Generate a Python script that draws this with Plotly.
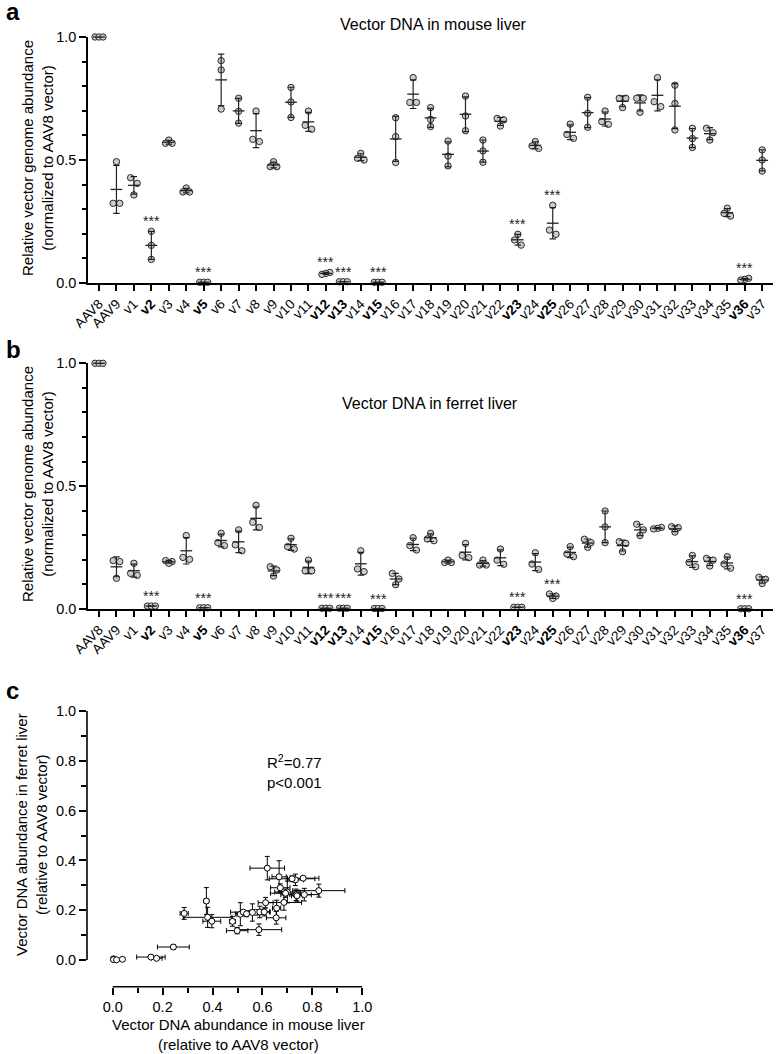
import numpy as np
import plotly.graph_objects as go

# ---------------- data ----------------
names = ["AAV8", "AAV9", "v1", "v2", "v3", "v4", "v5", "v6", "v7", "v8", "v9", "v10",
         "v11", "v12", "v13", "v14", "v15", "v16", "v17", "v18", "v19", "v20", "v21",
         "v22", "v23", "v24", "v25", "v26", "v27", "v28", "v29", "v30", "v31", "v32",
         "v33", "v34", "v35", "v36", "v37"]
significant = ["v2", "v5", "v12", "v13", "v15", "v23", "v25", "v36"]

mouse = [
    [1.000, 1.000, 1.000], [0.493, 0.324, 0.324], [0.428, 0.405, 0.358], [0.210, 0.153, 0.096],
    [0.581, 0.568, 0.568], [0.386, 0.370, 0.370], [0.003, 0.003, 0.003], [0.904, 0.866, 0.707],
    [0.751, 0.698, 0.650], [0.699, 0.584, 0.575], [0.493, 0.473, 0.473], [0.795, 0.736, 0.673],
    [0.699, 0.641, 0.625], [0.043, 0.039, 0.035], [0.005, 0.005, 0.005], [0.527, 0.507, 0.500],
    [0.003, 0.003, 0.003], [0.672, 0.595, 0.490], [0.835, 0.734, 0.734], [0.713, 0.665, 0.636],
    [0.577, 0.516, 0.476], [0.760, 0.679, 0.619], [0.581, 0.537, 0.491], [0.669, 0.663, 0.638],
    [0.198, 0.175, 0.154], [0.575, 0.557, 0.547], [0.316, 0.215, 0.198], [0.646, 0.604, 0.588],
    [0.755, 0.690, 0.633], [0.699, 0.656, 0.645], [0.751, 0.751, 0.713], [0.751, 0.751, 0.694],
    [0.835, 0.737, 0.717], [0.804, 0.730, 0.622], [0.629, 0.587, 0.551], [0.629, 0.611, 0.581],
    [0.304, 0.283, 0.272], [0.019, 0.015, 0.012], [0.541, 0.500, 0.455],
]

ferret = [
    [1.000, 1.000, 1.000], [0.197, 0.193, 0.125], [0.186, 0.145, 0.137], [0.012, 0.012, 0.012],
    [0.197, 0.193, 0.186], [0.299, 0.210, 0.202], [0.005, 0.005, 0.005], [0.308, 0.270, 0.258],
    [0.322, 0.261, 0.237], [0.422, 0.353, 0.332], [0.172, 0.159, 0.134], [0.288, 0.254, 0.244],
    [0.199, 0.155, 0.155], [0.003, 0.003, 0.003], [0.003, 0.003, 0.003], [0.237, 0.163, 0.152],
    [0.002, 0.002, 0.002], [0.145, 0.122, 0.099], [0.290, 0.258, 0.240], [0.308, 0.285, 0.278],
    [0.199, 0.189, 0.189], [0.267, 0.218, 0.209], [0.199, 0.179, 0.179], [0.244, 0.199, 0.182],
    [0.007, 0.007, 0.007], [0.229, 0.183, 0.161], [0.061, 0.053, 0.043], [0.254, 0.224, 0.213],
    [0.284, 0.270, 0.251], [0.399, 0.334, 0.270], [0.274, 0.267, 0.233], [0.345, 0.322, 0.299],
    [0.332, 0.328, 0.326], [0.335, 0.331, 0.313], [0.218, 0.189, 0.172], [0.206, 0.199, 0.175],
    [0.213, 0.183, 0.166], [0.001, 0.001, 0.001], [0.129, 0.121, 0.104],
]

r2_text = "R<sup>2</sup>=0.77<br>p&lt;0.001"

# ---------------- layout helpers ----------------
W, H = 776, 1054
FONT = "Liberation Sans, Arial, sans-serif"
def px(x):
    return x / W
def py(y):
    return 1 - y / H

CAT_PX = 17.45      # pixel width of one category
VAL_PX = 246.0      # pixels per unit on y
DOT = 6.6           # dot spacing in px


def jitter(vals):
    v = np.array(vals, dtype=float)
    order = list(np.argsort(v))
    sv = v * VAL_PX
    clusters, cur = [], [order[0]]
    for k in range(1, len(order)):
        if sv[order[k]] - sv[order[k - 1]] < 6.5:
            cur.append(order[k])
        else:
            clusters.append(cur)
            cur = [order[k]]
    clusters.append(cur)
    off = np.zeros(len(v))
    for c in clusters:
        if len(c) == 2:
            off[c[1]] = -DOT / 2
            off[c[0]] = DOT / 2
        elif len(c) == 3:
            pv = sv[c]
            if pv[2] - pv[0] < 2:
                off[c[0]], off[c[1]], off[c[2]] = -0.6 * DOT, 0, 0.6 * DOT
            else:
                if pv[1] - pv[0] > pv[2] - pv[1]:
                    odd, pair = c[0], [c[2], c[1]]
                else:
                    odd, pair = c[2], [c[1], c[0]]
                off[odd] = 0
                off[pair[0]] = -DOT / 2
                off[pair[1]] = DOT / 2
    return off / CAT_PX


fig = go.Figure()

ticktext = [f"<b>{n}</b>" if n in significant else n for n in names]
idx = np.arange(len(names))


def add_dot_panel(data, xa, ya):
    xs, ys = [], []
    for i, vals in enumerate(data):
        off = jitter(vals)
        for v, o in zip(vals, off):
            xs.append(i + o)
            ys.append(v)
    fig.add_trace(go.Scatter(
        x=xs, y=ys, mode="markers", xaxis=xa, yaxis=ya, cliponaxis=False,
        marker=dict(size=6.4, color="#cbcbcb", line=dict(color="#2a2a2a", width=1)),
        showlegend=False, hoverinfo="skip"))
    arr = np.array(data)
    means = arr.mean(axis=1)
    sds = arr.std(axis=1, ddof=1)
    fig.add_trace(go.Scatter(
        x=idx, y=means, mode="markers", xaxis=xa, yaxis=ya, cliponaxis=False,
        marker=dict(symbol="line-ew", size=8.4, color="#222",
                    line=dict(color="#222", width=1.3)),
        error_y=dict(type="data", array=sds, visible=True, color="#222",
                     thickness=1.2, width=3.2),
        showlegend=False, hoverinfo="skip"))
    return arr


mouse_arr = add_dot_panel(mouse, "x", "y")
ferret_arr = add_dot_panel(ferret, "x2", "y2")

# ---------------- panel c ----------------
mx = mouse_arr.mean(axis=1)[1:]
msd = mouse_arr.std(axis=1, ddof=1)[1:]
fy = ferret_arr.mean(axis=1)[1:]
fsd = ferret_arr.std(axis=1, ddof=1)[1:]
fig.add_trace(go.Scatter(
    x=mx, y=fy, mode="markers", xaxis="x3", yaxis="y3", cliponaxis=False,
    marker=dict(size=6, color="white", line=dict(color="black", width=1)),
    error_x=dict(type="data", array=msd, visible=True, color="black", thickness=1, width=2.5),
    error_y=dict(type="data", array=fsd, visible=True, color="black", thickness=1, width=2.5),
    showlegend=False, hoverinfo="skip"))

# ---------------- axes ----------------
tickfont = dict(family=FONT, size=14.5, color="black")
common_x = dict(
    range=[-0.63, 38.62], tickmode="array", tickvals=list(idx), ticktext=ticktext,
    tickangle=-45, ticks="outside", ticklen=6, tickwidth=1.5, tickcolor="black",
    showline=True, linewidth=1.6, linecolor="black", showgrid=False, zeroline=False,
    tickfont=dict(family=FONT, size=13.5, color="black"), automargin=False,
)
common_y = dict(
    range=[0, 1], tickmode="array", tickvals=[0, 0.5, 1.0], ticktext=["0.0", "0.5", "1.0"],
    ticks="outside", ticklen=7, tickwidth=1.5, tickcolor="black",
    minor=dict(dtick=0.1, tick0=0, ticks="outside", ticklen=4, tickwidth=1.5, tickcolor="black"),
    showline=True, linewidth=1.6, linecolor="black", showgrid=False, zeroline=False,
    tickfont=tickfont, automargin=False,
)

c_ticks = [0, 0.2, 0.4, 0.6, 0.8, 1.0]
c_minor = [0.1, 0.3, 0.5, 0.7, 0.9]
fig.update_layout(
    width=W, height=H, margin=dict(l=0, r=0, t=0, b=0, autoexpand=False),
    paper_bgcolor="white", plot_bgcolor="white",
    font=dict(family=FONT, color="black"),
    xaxis=dict(domain=[px(88), px(773)], anchor="y", **common_x),
    yaxis=dict(domain=[py(283), py(37)], anchor="x", **common_y),
    xaxis2=dict(domain=[px(88), px(773)], anchor="y2", **common_x),
    yaxis2=dict(domain=[py(609), py(363.3)], anchor="x2", **common_y),
    xaxis3=dict(domain=[px(87), px(362.3)], anchor="y3", range=[-0.103, 1.0],
                tickmode="array", tickvals=c_ticks, ticktext=[f"{t:.1f}" for t in c_ticks],
                ticks="outside", ticklen=7, tickwidth=1.5, tickcolor="black",
                minor=dict(tickvals=c_minor, ticks="outside", ticklen=5, tickwidth=1.5,
                           tickcolor="black"),
                showline=False, showgrid=False, zeroline=False, tickfont=tickfont,
                automargin=False),
    yaxis3=dict(domain=[py(986.7), py(711)], anchor="x3", range=[-0.107, 1.0],
                tickmode="array", tickvals=c_ticks, ticktext=[f"{t:.1f}" for t in c_ticks],
                ticks="outside", ticklen=7, tickwidth=1.5, tickcolor="black",
                minor=dict(tickvals=c_minor, ticks="outside", ticklen=5, tickwidth=1.5,
                           tickcolor="black"),
                showline=False, showgrid=False, zeroline=False, tickfont=tickfont,
                automargin=False),
)

# axis lines for panel c (offset axes)
fig.add_shape(type="line", xref="x3", yref="y3 domain", x0=0, x1=1.0, y0=0, y1=0,
              line=dict(color="black", width=1.6))
fig.add_shape(type="line", xref="x3 domain", yref="y3", x0=0, x1=0, y0=0, y1=1.0,
              line=dict(color="black", width=1.6))

# ---------------- annotations ----------------
ann = []
def paper_text(text, x, y, size, xanchor="center", yanchor="middle", angle=0, align="center"):
    ann.append(dict(text=text, x=px(x), y=py(y), xref="paper", yref="paper",
                    xanchor=xanchor, yanchor=yanchor, showarrow=False, textangle=angle,
                    align=align, font=dict(family=FONT, size=size, color="black")))

paper_text("<b>a</b>", 4, 11, 24, xanchor="left")
paper_text("<b>b</b>", 4, 350, 24, xanchor="left")
paper_text("<b>c</b>", 4, 690, 24, xanchor="left")
paper_text("Vector DNA in mouse liver", 433, 25, 16)
paper_text("Vector DNA in ferret liver", 430, 403, 16)
paper_text("Relative vector genome abundance<br>(normalized to AAV8 vector)", 37, 158, 15, angle=-90)
paper_text("Relative vector genome abundance<br>(normalized to AAV8 vector)", 37, 484, 15, angle=-90)
paper_text("Vector DNA abundance in ferret liver<br>(relative to AAV8 vector)", 31, 835, 15, angle=-90)
paper_text("Vector DNA abundance in mouse liver<br>(relative to AAV8 vector)", 238, 1034, 15)
paper_text(r2_text, 265, 771, 15, xanchor="left", align="left")

for xa, ya, arr in (("x", "y", mouse_arr), ("x2", "y2", ferret_arr)):
    for i, n in enumerate(names):
        if n in significant:
            ann.append(dict(text="***", x=i, y=float(arr[i].max()), xref=xa, yref=ya,
                            xanchor="center", yanchor="bottom", yshift=0, showarrow=False,
                            font=dict(family=FONT, size=14, color="#222")))

fig.update_layout(annotations=ann)
fig.write_html("out.html", config={"displayModeBar": False},
               post_script="document.body.style.margin='0px';document.body.style.overflow='hidden';")
